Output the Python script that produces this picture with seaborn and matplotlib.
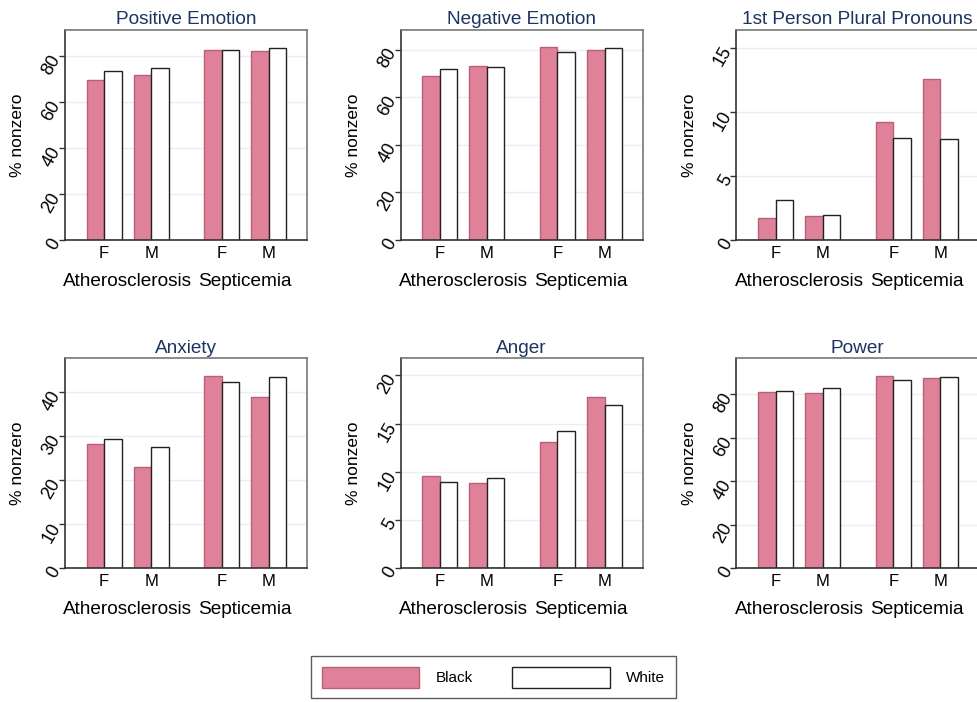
import pandas as pd
import matplotlib.pyplot as plt
import seaborn as sns
from matplotlib.patches import Patch
from matplotlib.transforms import blended_transform_factory

# Chart data
panels = ['Positive Emotion', 'Negative Emotion', '1st Person Plural Pronouns',
          'Anxiety', 'Anger', 'Power']
sex = ['F', 'M', 'F', 'M']
disease = ['Atherosclerosis', 'Atherosclerosis', 'Septicemia', 'Septicemia']
black = [
    [69.4, 71.8, 82.5, 82.4],
    [68.9, 73.1, 81.1, 79.8],
    [1.71, 1.84, 9.19, 12.57],
    [28.1, 23.0, 43.7, 38.9],
    [9.6, 8.87, 13.1, 17.8],
    [81.0, 80.6, 88.6, 87.7],
]
white = [
    [73.5, 75.0, 82.8, 83.6],
    [72.0, 72.5, 78.9, 80.8],
    [3.12, 1.92, 7.97, 7.9],
    [29.4, 27.6, 42.3, 43.4],
    [8.94, 9.36, 14.28, 16.9],
    [81.4, 82.9, 86.8, 88.2],
]
yticks = [[0, 20, 40, 60, 80], [0, 20, 40, 60, 80], [0, 5, 10, 15],
          [0, 10, 20, 30, 40], [0, 5, 10, 15, 20], [0, 20, 40, 60, 80]]
ytops = [91.4, 88.3, 16.4, 47.7, 21.8, 96.7]
races = ['Black', 'White']

# bar positions: two groups with a gap between them
xpos = [0, 1, 2.5, 3.5]

pink = '#df8199'
pink_edge = '#b8607a'
grid_col = '#e9eff1'

sns.set_theme(style='white')
plt.rcParams['font.family'] = ['Liberation Sans', 'DejaVu Sans']
plt.rcParams['text.color'] = 'black'
plt.rcParams['axes.labelcolor'] = 'black'

fig = plt.figure(figsize=(9.77, 7.02), dpi=100)
lefts = [0.0665, 0.4101, 0.7538]
bottoms = [0.6581, 0.1905]
w, h = 0.2477, 0.2994

for i, name in enumerate(panels):
    row, col = divmod(i, 3)
    ax = fig.add_axes([lefts[col], bottoms[row], w, h])
    df = pd.DataFrame({
        'x': xpos * 2,
        'val': black[i] + white[i],
        'race': ['Black'] * 4 + ['White'] * 4,
    })
    sns.barplot(data=df, x='x', y='val', hue='race', native_scale=True,
                palette={'Black': pink, 'White': 'white'}, width=0.745,
                legend=False, ax=ax, linewidth=1.0, saturation=1)
    for cont, ec in zip(ax.containers, [pink_edge, '#222222']):
        for p in cont:
            p.set_edgecolor(ec)
            p.set_linewidth(1.0)

    ax.set_xlim(-0.83, 4.31)
    ax.set_ylim(0, ytops[i])
    ax.set_yticks(yticks[i])
    ax.yaxis.grid(True, color=grid_col, lw=1)
    ax.set_axisbelow(True)
    ax.set_xticks(xpos)
    ax.set_xticklabels(sex, fontsize=12)
    ax.tick_params(axis='x', length=0, pad=4, labelcolor='black')
    ax.tick_params(axis='y', length=4, width=1, color='#333333', pad=2,
                   labelsize=13, left=True, labelcolor='black')
    for lab in ax.get_yticklabels():
        lab.set_rotation(60)
        lab.set_rotation_mode('anchor')
        lab.set_ha('right')
        lab.set_va('center')
    ax.set_xlabel('')
    ax.set_ylabel('% nonzero', fontsize=12.5)
    ax.yaxis.set_label_coords(-0.165, 0.5)
    ax.set_title(name, fontsize=13.7, color='#1c3461', pad=4)
    for side in ['top', 'right']:
        ax.spines[side].set_color('#777777')
        ax.spines[side].set_linewidth(1.2)
    for side in ['left', 'bottom']:
        ax.spines[side].set_color('#333333')
        ax.spines[side].set_linewidth(1.2)

    # group labels under the F/M ticks
    trans = blended_transform_factory(ax.transData, ax.transAxes)
    for g in range(2):
        cx = (xpos[2 * g] + xpos[2 * g + 1]) / 2
        ax.annotate(disease[2 * g], xy=(cx, 0), xycoords=trans,
                    xytext=(0, -23.5), textcoords='offset points',
                    ha='center', va='top', fontsize=13.7)

handles = [Patch(facecolor=pink, edgecolor=pink_edge, lw=1),
           Patch(facecolor='white', edgecolor='#222222', lw=1)]
leg = fig.legend(handles, races, loc='center', bbox_to_anchor=(0.505, 0.035),
                 ncol=2, fontsize=11, frameon=True, fancybox=False,
                 handlelength=6.4, handleheight=1.7, handletextpad=1.05,
                 columnspacing=2.6, borderpad=0.7)
leg.get_frame().set_edgecolor('#333333')
leg.get_frame().set_linewidth(1.0)

plt.savefig('out.png', dpi=100)
